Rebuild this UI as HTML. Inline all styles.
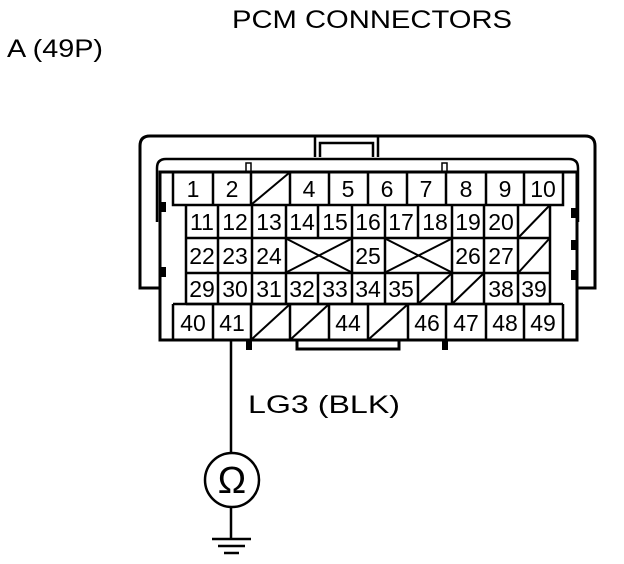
<!DOCTYPE html>
<html><head><style>body{margin:0;background:#fff}svg{display:block}</style></head><body>
<svg width="624" height="564" viewBox="0 0 624 564" xmlns="http://www.w3.org/2000/svg" font-family="Liberation Sans, sans-serif">
<rect width="624" height="564" fill="#fff"/>
<text x="232" y="28" font-size="25" textLength="280" lengthAdjust="spacingAndGlyphs">PCM CONNECTORS</text>
<text x="7" y="57" font-size="25" textLength="96" lengthAdjust="spacingAndGlyphs">A (49P)</text>
<g fill="none" stroke="#000">
<path d="M160 288 H140 V146 Q140 136 150 136 H585 Q595 136 595 146 V288 H577" stroke-width="3"/>
<path d="M315 157 V137 M378 157 V137 M320 157 V143 H373 V157" stroke-width="2.5"/>
<path d="M157 222 V168 Q157 159 166 159 H569 Q578 159 578 168 V222" stroke-width="2.5"/>
<rect x="160" y="172" width="417" height="168" stroke-width="3"/>
<rect x="246" y="163" width="5" height="9" stroke-width="1.5"/>
<rect x="442" y="163" width="5" height="9" stroke-width="1.5"/>
<path d="M297 340 V349 H399 V340" stroke-width="3"/>
<g stroke-width="2.5">
<path d="M173 172 V205 H563 V172 M213 172 V205 M251 172 V205 M290 172 V205 M329 172 V205 M368 172 V205 M407 172 V205 M446 172 V205 M486 172 V205 M524 172 V205"/>
<path d="M252 204 L289 173" stroke-width="2"/>
<path d="M186 205 V304 M550 205 V304 M186 238 H550 M186 273 H550 M186 304 H550"/>
<path d="M218 205 V304 M252 205 V304 M286 205 V304 M352 205 V304 M385 205 V304 M452 205 V304 M484 205 V304 M518 205 V304"/>
<path d="M318 205 V238 M418 205 V238 M318 273 V304 M418 273 V304"/>
<path d="M519 237 L549 206 M519 272 L549 239 M287 239 L351 272 M287 272 L351 239 M386 239 L451 272 M386 272 L451 239 M419 303 L451 274 M453 303 L483 274" stroke-width="2"/>
<path d="M173 304 V340 M563 304 V340 M213 304 V340 M251 304 V340 M290 304 V340 M329 304 V340 M368 304 V340 M408 304 V340 M446 304 V340 M486 304 V340 M524 304 V340 M173 304 H563"/>
<path d="M252 339 L289 305 M291 339 L328 305 M369 339 L407 305" stroke-width="2"/>
</g>
<path d="M231 340 V453" stroke-width="2.5"/>
<circle cx="232" cy="480" r="27" stroke-width="2.5"/>
<path d="M231 507 V538" stroke-width="2.5"/>
<path d="M212 539 H251 M218 546 H245 M224 553 H239" stroke-width="2.5"/>
</g>
<g fill="#000">
<rect x="246" y="340" width="6" height="10"/><rect x="442" y="340" width="6" height="10"/>
<rect x="160" y="202" width="6" height="10"/><rect x="160" y="267" width="6" height="10"/>
<rect x="571" y="208" width="6" height="10"/><rect x="571" y="240" width="6" height="10"/><rect x="571" y="270" width="6" height="10"/>
</g>
<g font-size="23" text-anchor="middle">
<text x="193" y="197">1</text><text x="232" y="197">2</text><text x="309" y="197">4</text><text x="348" y="197">5</text><text x="387" y="197">6</text><text x="426" y="197">7</text><text x="466" y="197">8</text><text x="505" y="197">9</text><text x="543" y="197">10</text>
<text x="202" y="230">11</text><text x="235" y="230">12</text><text x="269" y="230">13</text><text x="302" y="230">14</text><text x="335" y="230">15</text><text x="368" y="230">16</text><text x="401" y="230">17</text><text x="435" y="230">18</text><text x="468" y="230">19</text><text x="501" y="230">20</text>
<text x="202" y="264">22</text><text x="235" y="264">23</text><text x="269" y="264">24</text><text x="368" y="264">25</text><text x="468" y="264">26</text><text x="501" y="264">27</text>
<text x="202" y="297">29</text><text x="235" y="297">30</text><text x="269" y="297">31</text><text x="302" y="297">32</text><text x="335" y="297">33</text><text x="368" y="297">34</text><text x="401" y="297">35</text><text x="501" y="297">38</text><text x="534" y="297">39</text>
<text x="193" y="331">40</text><text x="232" y="331">41</text><text x="348" y="331">44</text><text x="427" y="331">46</text><text x="466" y="331">47</text><text x="505" y="331">48</text><text x="543" y="331">49</text>
</g>
<text x="248" y="413" font-size="25" textLength="152" lengthAdjust="spacingAndGlyphs">LG3 (BLK)</text>
<text x="232" y="493" font-size="38" text-anchor="middle">Ω</text>
</svg>
</body></html>
